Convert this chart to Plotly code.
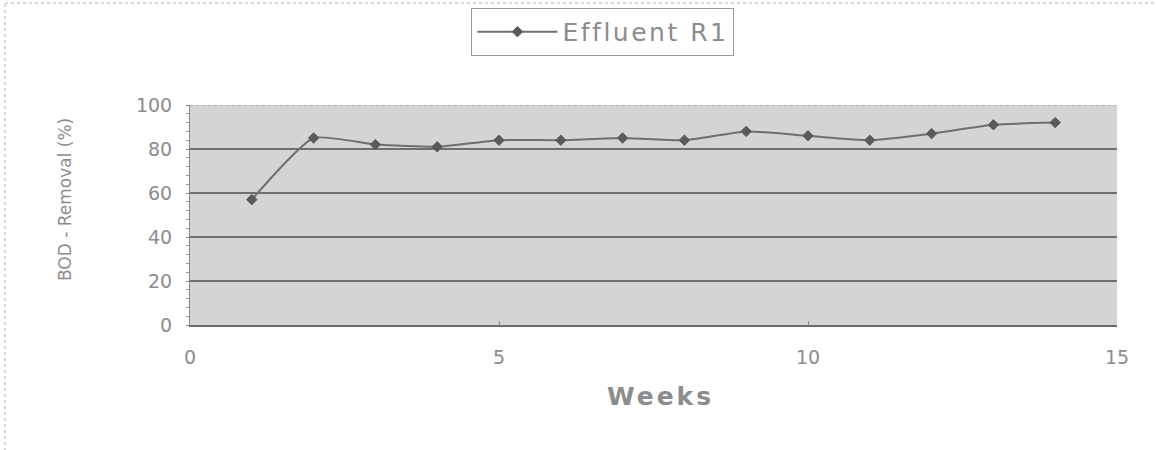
import plotly.graph_objects as go

# Weekly BOD removal measured on effluent of reactor R1
weeks = [1, 2, 3, 4, 5, 6, 7, 8, 9, 10, 11, 12, 13, 14]
bod_removal = [57, 85, 82, 81, 84, 84, 85, 84, 88, 86, 84, 87, 91, 92]
series_name = "Effluent R1"

x_ticks = [0, 5, 10, 15]
y_ticks = [0, 20, 40, 60, 80, 100]

FONT = "DejaVu Sans, Liberation Sans, Arial, sans-serif"
GREY_TEXT = "#8c8c8c"

fig = go.Figure()
fig.add_trace(go.Scatter(
    x=weeks, y=bod_removal,
    name=f"<span style='letter-spacing:2.5px'>{series_name}</span>",
    mode="lines+markers",
    line=dict(color="#6e6e6e", width=2, shape="spline", smoothing=0.5),
    marker=dict(symbol="diamond", size=8, color="#5a5a5a",
                line=dict(color="#5a5a5a", width=1)),
))

fig.update_layout(
    width=1156, height=450,
    margin=dict(l=190, r=39, t=105, b=125, autoexpand=False),
    paper_bgcolor="white",
    plot_bgcolor="#d4d4d4",
    showlegend=True,
    legend=dict(
        x=0.4455, y=1.332, xanchor="center", yanchor="middle",
        orientation="h",
        bgcolor="white", bordercolor="#9a9a9a", borderwidth=1,
        font=dict(family=FONT, size=25, color=GREY_TEXT),
        itemwidth=80,
    ),
    xaxis=dict(
        range=[0, 15], tickvals=x_ticks, ticktext=[str(v) for v in x_ticks],
        showgrid=False, zeroline=False,
        showline=True, linecolor="#6a6a6a", linewidth=2,
        ticks="inside", ticklen=4, tickcolor="#8a8a8a",
        ticklabelstandoff=14,
        tickfont=dict(family=FONT, size=19, color=GREY_TEXT),
    ),
    yaxis=dict(
        range=[0, 100], tickvals=y_ticks, ticktext=[str(v) for v in y_ticks],
        showgrid=True, gridcolor="#6f6f6f", gridwidth=2,
        zeroline=False,
        showline=True, linecolor="#8a8a8a", linewidth=1,
        ticks="outside", ticklen=3, tickcolor="#8a8a8a",
        minor=dict(ticks="outside", ticklen=3, dtick=4, tickcolor="#9a9a9a", showgrid=False),
        ticklabelstandoff=10,
        tickfont=dict(family=FONT, size=19, color=GREY_TEXT),
    ),
)

# axis titles
fig.add_annotation(
    text="<span style='letter-spacing:3px'><b>Weeks</b></span>",
    xref="paper", yref="paper", x=0.508, y=-0.323,
    xanchor="center", yanchor="middle", showarrow=False,
    font=dict(family=FONT, size=25, color=GREY_TEXT),
)
fig.add_annotation(
    text="BOD - Removal (%)",
    xref="paper", yref="paper", x=-0.1348, y=0.568,
    xanchor="center", yanchor="middle", showarrow=False, textangle=-90,
    font=dict(family=FONT, size=17, color=GREY_TEXT),
)

# top gridline at 100 and dotted outer chart frame
fig.add_hline(y=100, line=dict(color="#8a8a8a", width=1, dash="dot"))
fig.add_shape(type="line", xref="paper", yref="paper",
              x0=-0.1996, x1=-0.1996, y0=-0.6, y1=1.4636,
              line=dict(color="#b0b0b0", width=1, dash="dot"))
fig.add_shape(type="line", xref="paper", yref="paper",
              x0=-0.1996, x1=1.05, y0=1.4636, y1=1.4636,
              line=dict(color="#b0b0b0", width=1, dash="dot"))

fig.write_html("out.html")
